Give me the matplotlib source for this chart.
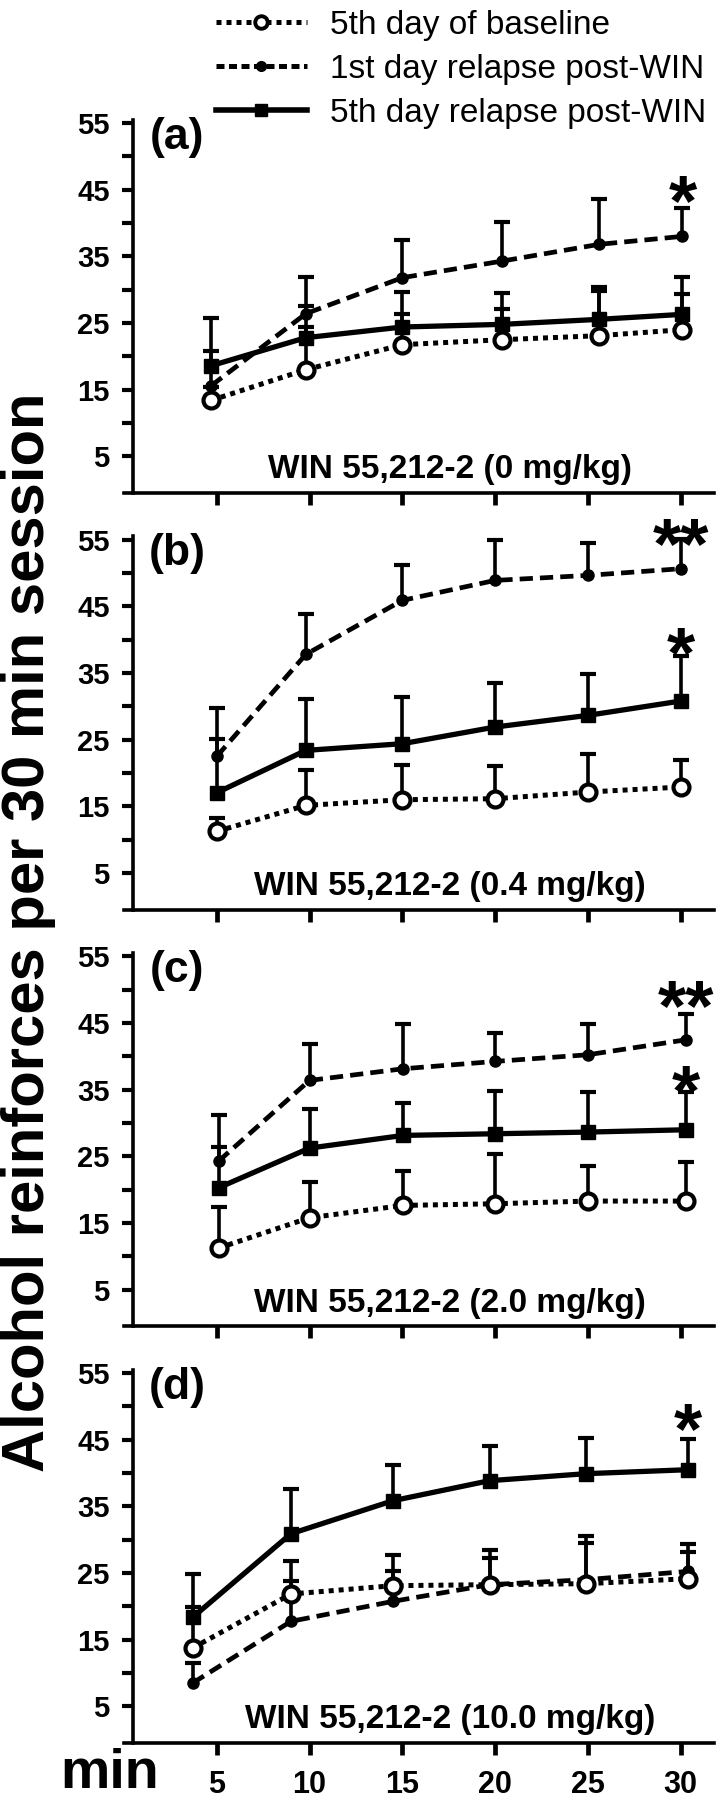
import matplotlib
matplotlib.use('Agg')
import matplotlib.pyplot as plt
from matplotlib.ticker import FixedLocator
from matplotlib.lines import Line2D
import numpy as np

plt.rcParams['font.family'] = ['Liberation Sans', 'DejaVu Sans']

minutes = [5, 10, 15, 20, 25, 30]
y_ticks = [5, 15, 25, 35, 45, 55]
series_names = ['5th day of baseline', '1st day relapse post-WIN', '5th day relapse post-WIN']
panel_tags = ['(a)', '(b)', '(c)', '(d)']
doses = ['WIN 55,212-2 (0 mg/kg)', 'WIN 55,212-2 (0.4 mg/kg)',
         'WIN 55,212-2 (2.0 mg/kg)', 'WIN 55,212-2 (10.0 mg/kg)']

# where the points sit along the time axis in each panel
x_a = [4.7, 9.8, 15.0, 20.4, 25.6, 30.1]
x_b = [5.0, 9.8, 15.0, 20.0, 25.0, 30.0]
x_c = [5.1, 10.0, 15.05, 20.0, 25.0, 30.3]
x_d = [3.7, 9.0, 14.5, 19.7, 24.9, 30.4]

# (a) 0 mg/kg
base_a = [13.4, 18.0, 21.75, 22.5, 23.1, 24.0]
base_a_err = [2.0, 6.4, 4.65, 4.55, 6.65, 5.4]
first_a = [15.6, 26.4, 31.8, 34.3, 36.8, 38.0]
first_a_err = [5.2, 5.5, 5.7, 5.85, 6.85, 4.3]
fifth_a = [18.6, 22.8, 24.4, 24.8, 25.55, 26.3]
fifth_a_err = [7.2, 4.7, 5.25, 4.75, 4.85, 5.6]

# (b) 0.4 mg/kg
base_b = [11.25, 15.15, 16.0, 16.15, 17.15, 17.9]
base_b_err = [2.0, 5.35, 5.15, 4.85, 5.65, 4.0]
first_b = [22.5, 37.8, 45.9, 48.9, 49.65, 50.65]
first_b_err = [7.25, 6.1, 5.25, 6.0, 4.9, 4.5]
fifth_b = [17.05, 23.4, 24.4, 26.9, 28.65, 30.8]
fifth_b_err = [8.1, 7.75, 7.0, 6.6, 6.15, 6.75]

# (c) 2.0 mg/kg
base_c = [11.25, 15.8, 17.65, 17.9, 18.3, 18.3]
base_c_err = [6.15, 5.35, 5.15, 7.4, 5.25, 5.85]
first_c = [24.3, 36.4, 38.15, 39.25, 40.25, 42.5]
first_c_err = [6.85, 5.5, 6.65, 4.25, 4.55, 3.9]
fifth_c = [20.3, 26.25, 28.15, 28.4, 28.65, 29.0]
fifth_c_err = [6.1, 5.9, 4.85, 6.4, 6.0, 5.65]

# (d) 10.0 mg/kg
base_d = [13.75, 21.85, 23.1, 23.25, 23.4, 24.15]
base_d_err = [6.15, 4.9, 4.65, 5.15, 7.2, 5.25]
first_d = [8.5, 17.75, 20.75, 23.25, 24.0, 25.25]
first_d_err = [3.0, 6.0, 4.5, 4.0, 5.5, 2.9]
fifth_d = [18.35, 30.9, 35.85, 38.85, 39.9, 40.5]
fifth_d_err = [6.55, 6.75, 5.3, 5.15, 5.35, 4.6]

# significance marks at the last time point: (text, y of mark centre)
stars_a = [('*', 45.9)]
stars_b = [('**', 56.9), ('*', 40.65)]
stars_c = [('**', 50.15), ('*', 37.4)]
stars_d = [('*', 49.25)]

panels = [
    (x_a, base_a, base_a_err, first_a, first_a_err, fifth_a, fifth_a_err, stars_a),
    (x_b, base_b, base_b_err, first_b, first_b_err, fifth_b, fifth_b_err, stars_b),
    (x_c, base_c, base_c_err, first_c, first_c_err, fifth_c, fifth_c_err, stars_c),
    (x_d, base_d, base_d_err, first_d, first_d_err, fifth_d, fifth_d_err, stars_d),
]

W, H = 725, 1800
fig = plt.figure(figsize=(W / 100, H / 100), dpi=100)

ax_left = 124 / W
ax_w = 590 / W
ax_h = 373.3 / H
bottoms = [493, 909.7, 1326.4, 1743]

dot_style = dict(color='black', lw=3.6, linestyle=(0, (1.0, 1.0)), dash_capstyle='butt',
                 marker='o', ms=11.5, mfc='white', mec='black', mew=3.0)
dash_style = dict(color='black', lw=3.4, linestyle=(0, (2.8, 1.5)), marker='o', ms=8,
                  mfc='black', mec='black')
solid_style = dict(color='black', lw=3.8, linestyle='-', marker='s', ms=10.5,
                   mfc='black', mec='black')


def errs(ax, x, y, e):
    top = np.array(y) + np.array(e)
    ax.vlines(x, y, top, color='black', lw=2.6, zorder=2)
    ax.plot(x, top, ls='none', marker='_', ms=11, mew=3.0, color='black', zorder=2)


for i, (xs, b, be, f, fe, s, se, stars) in enumerate(panels):
    ax = fig.add_axes([ax_left, 1 - bottoms[i] / H, ax_w, ax_h])
    errs(ax, xs, s, se)
    errs(ax, xs, f, fe)
    errs(ax, xs, b, be)
    ax.plot(xs, s, zorder=3, **solid_style)
    ax.plot(xs, f, zorder=4, **dash_style)
    ax.plot(xs, b, zorder=5, **dot_style)

    ax.set_xlim(0, 31.8)
    ax.set_ylim(-0.5, 55.5)
    for sp in ['top', 'right']:
        ax.spines[sp].set_visible(False)
    ax.spines['left'].set_position(('data', 0.5))
    ax.spines['left'].set_linewidth(2.6)
    ax.spines['bottom'].set_linewidth(2.6)

    ax.yaxis.set_major_locator(FixedLocator(y_ticks))
    ax.yaxis.set_minor_locator(FixedLocator([10, 20, 30, 40, 50]))
    ax.xaxis.set_major_locator(FixedLocator(minutes))
    ax.tick_params(axis='y', which='both', direction='out', length=8, width=3.0,
                   labelsize=21, pad=9)
    ax.tick_params(axis='x', which='major', direction='out', length=8.5, width=3.4,
                   labelsize=22, pad=11)
    for lab in ax.get_yticklabels():
        lab.set_fontweight('bold')
    if i < 3:
        ax.set_xticklabels([])
    else:
        for lab in ax.get_xticklabels():
            lab.set_fontweight('bold')
    ax.patch.set_visible(False)

    ax.text(2.86, 52.9, panel_tags[i], fontsize=32, fontweight='bold',
            ha='center', va='center')
    ax.text(17.56, 3.0, doses[i], fontsize=24, fontweight='bold',
            ha='center', va='center')
    for txt, yc in stars:
        ax.text(xs[-1], yc - 6.2, txt, fontsize=52, fontweight='bold',
                ha='center', va='baseline', clip_on=False)

# legend keys drawn with smaller markers than the data
leg_handles = [
    Line2D([], [], color='black', lw=3.6, linestyle=(0, (1.0, 1.0)), marker='o', ms=9,
           mfc='white', mec='black', mew=2.8),
    Line2D([], [], color='black', lw=3.6, linestyle=(0, (1.6, 0.9)), marker='o', ms=7,
           mfc='black', mec='black'),
    Line2D([], [], color='black', lw=4.0, linestyle='-', marker='s', ms=9,
           mfc='black', mec='black'),
]
fig.legend(leg_handles, series_names, loc='upper left',
           bbox_to_anchor=(216 / W, 1 - 10 / H), frameon=False, fontsize=24,
           handlelength=2.73, handletextpad=0.69, labelspacing=0.39,
           borderpad=0, borderaxespad=0, numpoints=1)

fig.text(29 / W, 1 - 932 / H, 'Alcohol reinforces per 30 min session', rotation=90,
         fontsize=43, fontweight='bold', ha='center', va='center')
fig.text(60 / W, 0 / H, 'min', fontsize=40, fontweight='bold', ha='left', va='bottom')

fig.savefig('out.png', dpi=100)
